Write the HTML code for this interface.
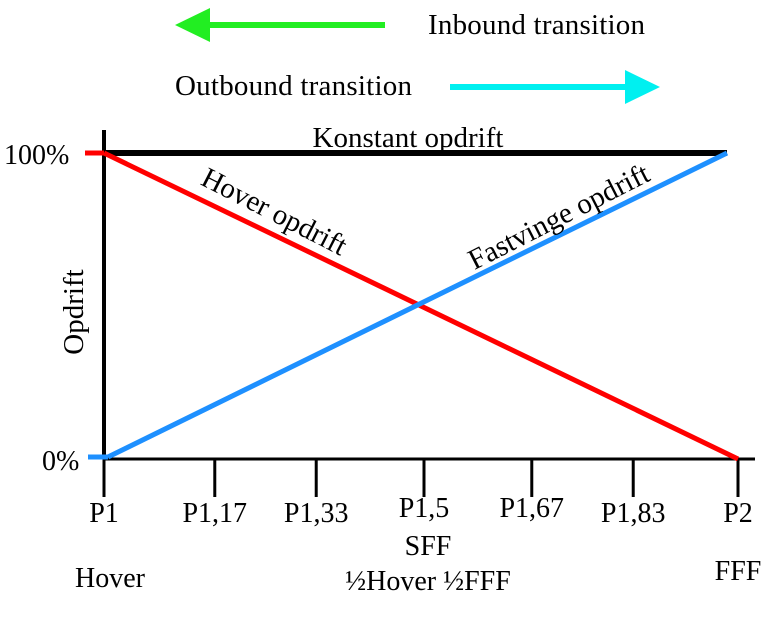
<!DOCTYPE html>
<html><head><meta charset="utf-8"><style>
body{margin:0;background:#fff;width:777px;height:613px;overflow:hidden}
svg text{font-family:"Liberation Serif",serif;fill:#000}
</style></head><body>
<svg width="777" height="613">
<g>
<line x1="200" y1="25" x2="385" y2="25" stroke="#22ee22" stroke-width="6"/>
<polygon points="175,25 210,8 210,42" fill="#22ee22"/>
<text x="428" y="34" font-size="29" textLength="217">Inbound transition</text>
<text x="175" y="95" font-size="29" textLength="237">Outbound transition</text>
<line x1="450" y1="87" x2="630" y2="87" stroke="#00f0f0" stroke-width="6"/>
<polygon points="660,87 625,70 625,104" fill="#00f0f0"/>
</g>
<g id="plot"></g>
</svg>
<script>
const tickLabels=["P1","P1,17","P1,33","P1,5","P1,67","P1,83","P2"];
const tickValues=[1,1.17,1.33,1.5,1.67,1.83,2];
const hoverLift=[100,0];
const fixedLift=[0,100];
const constantLift=[100,100];
const X0=104,X1=738,Y0=459,Y1=153;
function xs(v){return X0+(v-1)*(X1-X0);}
function ys(v){return Y0-(v/100)*(Y0-Y1);}
const NS="http://www.w3.org/2000/svg";
const g=document.getElementById('plot');
function mk(t,a,txt){const e=document.createElementNS(NS,t);for(const k in a)e.setAttribute(k,a[k]);if(txt!==undefined)e.textContent=txt;g.appendChild(e);return e;}
let e;
e=mk('line',{x1:X0,y1:130,x2:X0,y2:Y0,stroke:'#000','stroke-width':4});


e=mk('line',{x1:X0,y1:Y0,x2:755,y2:Y0,stroke:'#000','stroke-width':3});


tickValues.forEach((v,i)=>{
 const x=xs(v)+(i>0&&i<6?3:0);
 let t=mk('line',{x1:x,y1:Y0,x2:x,y2:497,stroke:'#000','stroke-width':3});
 
 
 let l=mk('text',{x:x,y:i===3||i===4?517:522,'font-size':28,'text-anchor':'middle'},tickLabels[i]);
 
 
});
e=mk('text',{x:428,y:555,'font-size':28,'text-anchor':'middle'},'SFF');


e=mk('text',{x:428,y:590,'font-size':28,'text-anchor':'middle'},'½Hover ½FFF');


e=mk('text',{x:110,y:587,'font-size':28,'text-anchor':'middle'},'Hover');


e=mk('text',{x:738,y:580,'font-size':28,'text-anchor':'middle'},'FFF');


e=mk('text',{x:4,y:164,'font-size':28},'100%');


e=mk('text',{x:42,y:470,'font-size':28},'0%');


e=mk('text',{x:83,y:312,'font-size':29,'text-anchor':'middle',transform:'rotate(-90 83 312)'},'Opdrift');


e=mk('line',{x1:xs(1),y1:ys(constantLift[0]),x2:727,y2:ys(constantLift[1]),stroke:'#000','stroke-width':6});


e=mk('line',{x1:85,y1:ys(hoverLift[0]),x2:xs(1),y2:ys(hoverLift[0]),stroke:'#ff0000','stroke-width':5});


e=mk('line',{x1:xs(1),y1:ys(hoverLift[0]),x2:xs(2),y2:ys(hoverLift[1]),stroke:'#ff0000','stroke-width':5});


e=mk('line',{x1:88,y1:ys(fixedLift[0])-2,x2:xs(1)+4,y2:ys(fixedLift[0])-2,stroke:'#1e90ff','stroke-width':5});


e=mk('line',{x1:xs(1)+4,y1:ys(fixedLift[0])-2,x2:727,y2:ys(fixedLift[1]),stroke:'#1e90ff','stroke-width':5});


e=mk('text',{x:408,y:147,'font-size':29,'text-anchor':'middle'},'Konstant opdrift');


e=mk('text',{x:270,y:220,'font-size':29,'text-anchor':'middle',transform:'rotate(27 270 220)'},'Hover opdrift');


e=mk('text',{x:563,y:225,'font-size':29,'text-anchor':'middle',transform:'rotate(-27 563 225)'},'Fastvinge opdrift');


</script>
</body></html>
